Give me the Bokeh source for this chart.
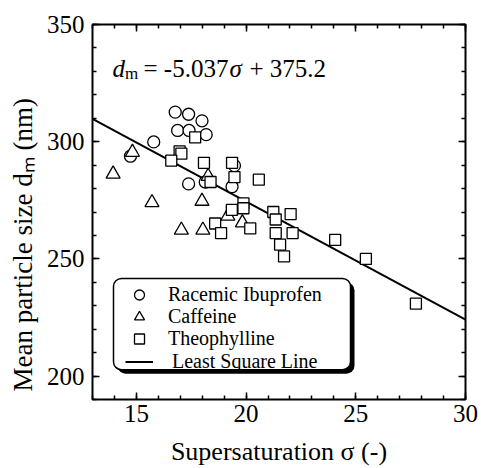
from bokeh.plotting import figure
from bokeh.models import (Range1d, FixedTicker, LinearAxis, Label, Legend,
                          LegendItem, BoxAnnotation, Title)
from bokeh.embed import file_html
from bokeh.resources import INLINE

# ---------------- data ----------------
ibu_sigma = [16.77, 17.38, 17.99, 16.88, 17.40, 18.18, 15.79, 14.73, 19.47, 17.38, 18.14, 19.36]
ibu_dm = [312.6, 311.7, 308.9, 304.8, 304.8, 303.0, 299.9, 293.8, 289.8, 282.0, 282.8, 280.8]

caf_sigma = [14.82, 13.94, 15.71, 17.99, 18.27, 17.05, 18.03, 19.17, 19.83]
caf_dm = [295.5, 286.2, 274.0, 274.6, 285.2, 262.3, 262.3, 268.3, 265.4]

theo_sigma = [17.68, 16.97, 17.05, 16.59, 18.08, 19.36, 19.47, 18.38, 20.58, 19.35,
              19.88, 19.88, 18.59, 18.86, 20.19, 21.24, 21.35, 22.03, 21.35, 22.12,
              21.55, 21.73, 24.06, 25.46, 27.74]
theo_dm = [301.8, 295.9, 294.9, 291.9, 291.0, 291.0, 284.9, 282.8, 283.8, 270.9,
           273.7, 271.6, 265.1, 261.0, 263.0, 270.0, 266.8, 269.1, 261.0, 261.0,
           256.1, 251.1, 258.1, 250.0, 230.9]

fit_sigma = [13.0, 30.0]
fit_dm = [309.7, 224.1]

x_ticks = [15, 20, 25, 30]
x_minor = list(range(13, 31))
y_ticks = [200, 250, 300, 350]
y_minor = list(range(190, 351, 10))

legend_labels = ["Racemic Ibuprofen", "Caffeine", "Theophylline", "Least Square Line"]
x_title = "Supersaturation \u03c3 (-)"
y_title = "Mean particle size d\u2098 (nm)"

# ---------------- layout helpers (picture px -> frame) ----------------
FL, FT, FW, FH = 92.0, 24.0, 373.0, 378.0
FB = FT + FH
X0, X1, Y0, Y1 = 13.0, 30.0, 190.0, 350.0


def sx(px):
    return X0 + (px - FL) * (X1 - X0) / FW


def sy(py):
    return Y1 - (py - FT) * (Y1 - Y0) / FH


FONT = "Liberation Serif"

p = figure(width=481, height=468, x_range=Range1d(X0, X1), y_range=Range1d(Y0, Y1),
           output_backend="svg", toolbar_location=None,
           min_border_left=92, min_border_right=16, min_border_top=24, min_border_bottom=66)
p.grid.visible = False
p.outline_line_color = "black"
p.outline_line_width = 2
p.background_fill_color = "white"
p.border_fill_color = "white"

bottom_ax = p.below[0]
left_ax = p.left[0]
bottom_ax.ticker = FixedTicker(ticks=x_ticks, minor_ticks=x_minor)
left_ax.ticker = FixedTicker(ticks=y_ticks, minor_ticks=y_minor)

top_ax = LinearAxis(ticker=FixedTicker(ticks=x_ticks, minor_ticks=x_minor))
right_ax = LinearAxis(ticker=FixedTicker(ticks=y_ticks, minor_ticks=y_minor))
p.add_layout(top_ax, "above")
p.add_layout(right_ax, "right")

for ax in (bottom_ax, left_ax, top_ax, right_ax):
    ax.axis_line_color = None
    ax.major_tick_in = 7
    ax.major_tick_out = 0
    ax.minor_tick_in = 4
    ax.minor_tick_out = 0
    ax.major_tick_line_color = "black"
    ax.minor_tick_line_color = "black"
    ax.major_tick_line_width = 1.5
    ax.minor_tick_line_width = 1.5
    ax.major_label_text_font = FONT
    ax.major_label_text_font_size = "25px"
    ax.major_label_text_color = "black"

for ax in (top_ax, right_ax):
    ax.major_label_text_color = None
    ax.major_label_text_font_size = "1px"
    ax.major_label_standoff = 0

bottom_ax.major_label_standoff = 5
bottom_ax.axis_label = x_title
bottom_ax.axis_label_text_font = FONT
bottom_ax.axis_label_text_font_size = "26px"
bottom_ax.axis_label_text_font_style = "normal"
bottom_ax.axis_label_text_color = "black"
bottom_ax.axis_label_standoff = 12

left_ax.major_label_standoff = 8

yt = Title(text=y_title, align="left", offset=8, standoff=11, vertical_align="bottom",
           text_font=FONT, text_font_size="27px", text_font_style="normal",
           text_color="black")
p.add_layout(yt, "left")

# ---------------- glyphs ----------------
r_line = p.line(fit_sigma, fit_dm, line_color="black", line_width=2)
r_ibu = p.scatter(ibu_sigma, ibu_dm, marker="circle", size=12, fill_color="white",
                  line_color="black", line_width=1.3)
r_caf = p.scatter(caf_sigma, caf_dm, marker="triangle", size=14, fill_color="white",
                  line_color="black", line_width=1.3)
r_theo = p.scatter(theo_sigma, theo_dm, marker="square", size=11, fill_color="white",
                   line_color="black", line_width=1.3)

# ---------------- legend box with shadow ----------------
sh = 4
shadow = BoxAnnotation(left=sx(113 + sh), right=sx(350 + sh), top=sy(280 + sh), bottom=sy(372 + sh),
                       fill_color="black", fill_alpha=1, line_color=None, border_radius=8)
box = BoxAnnotation(left=sx(113), right=sx(350), top=sy(280), bottom=sy(372),
                    fill_color="white", fill_alpha=1, line_color="black", line_width=1.5,
                    line_alpha=1, border_radius=8)
p.add_layout(shadow)
p.add_layout(box)

row_centers = [297.5, 319.7, 341.9, 364.1]
standoffs = [15, 15, 15, 19]
for lbl, r, yc, so in zip(legend_labels, [r_ibu, r_caf, r_theo, r_line], row_centers, standoffs):
    lg = Legend(items=[LegendItem(label=lbl, renderers=[r])],
                location=(125 - FL, FB - (yc + 12.5)), orientation="vertical",
                glyph_width=28, glyph_height=25, spacing=0, label_standoff=so,
                padding=0, margin=0, background_fill_alpha=0, border_line_color=None,
                label_text_font=FONT, label_text_font_size="20px",
                label_text_color="black", label_height=20)
    p.add_layout(lg)


def lab(px, py, text, size="25px", style="normal"):
    # position given in picture pixels, converted to frame-relative screen units
    p.add_layout(Label(x=px - FL, y=FB - py, x_units="screen", y_units="screen",
                       text=text, text_font=FONT, text_font_size=size,
                       text_font_style=style, text_color="black", text_align="left",
                       text_baseline="alphabetic"))


# equation (inside the frame)
lab(112, 71, "d", style="italic")
lab(124.5, 76, "m", size="17px")
lab(143, 71, "= -5.037")
lab(229, 71, "\u03c3", style="italic")
lab(249, 71, "+ 375.2")

open("out.html", "w").write(file_html(p, INLINE))
